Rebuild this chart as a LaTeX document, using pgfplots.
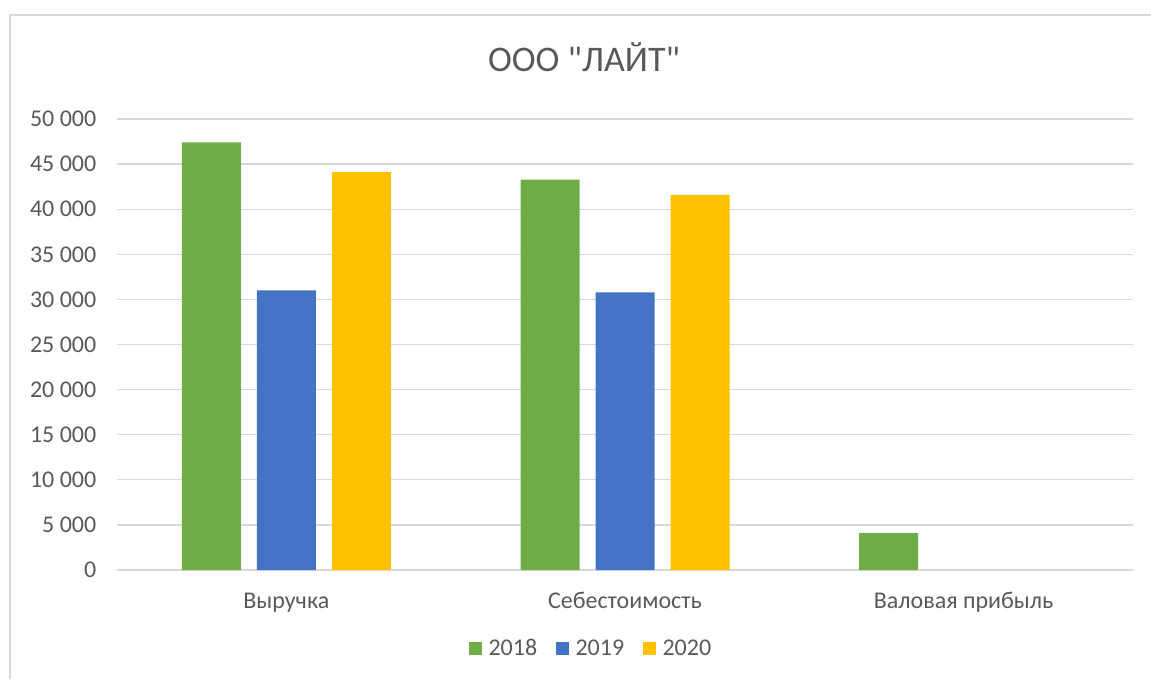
\documentclass[border=0pt]{standalone}
\usepackage{pgfplots}
\pgfplotsset{compat=1.18}
\usepackage{fontspec}
\setmainfont{Carlito}[Ligatures=TeXOff]
\definecolor{cgreen}{HTML}{70AD47}
\definecolor{cblue}{HTML}{4472C4}
\definecolor{cyellow}{HTML}{FFC000}
\definecolor{cgrid}{HTML}{D9D9D9}
\definecolor{ctext}{HTML}{595959}
\pgfplotsset{sqlegend/.style={legend image code/.code={\fill[##1] (0pt,0.5pt) rectangle (9.75pt,10.25pt);}}}
\begin{document}
\begin{tikzpicture}
\useasboundingbox (0,0) rectangle (863.25pt,509.25pt);
\draw[cgrid, line width=0.9pt] (7.5pt,0) -- (7.5pt,498pt) -- (863.25pt,498pt);
\begin{axis}[
  at={(87.75pt,81.75pt)}, anchor=south west,
  width=762pt, height=338.25pt, scale only axis,
  ybar=12pt, bar width=44.25pt,
  xmin=-0.5, xmax=2.5, ymin=0, ymax=50000,
  scaled y ticks=false,
  xtick={0,1,2},
  xticklabels={Выручка, Себестоимость, Валовая прибыль},
  ytick={0,5000,10000,15000,20000,25000,30000,35000,40000,45000,50000},
  yticklabels={0,{5 000},{10 000},{15 000},{20 000},{25 000},{30 000},{35 000},{40 000},{45 000},{50 000}},
  axis line style={draw=none},
  major tick length=0pt,
  ymajorgrids, grid style={cgrid, line width=1pt},
  tick label style={font=\fontsize{18}{21.6}\selectfont, color=ctext},
  x tick label style={anchor=base, yshift=-28.9pt},
  y tick label style={anchor=east, xshift=-12pt},
  legend style={at={(0.4656,-0.1736)}, anchor=center, draw=none, fill=none,
    legend columns=3, font=\fontsize{18}{21.6}\selectfont, text=ctext,
    inner sep=0pt, nodes={inner sep=0pt, anchor=base},
    /tikz/every odd column/.append style={column sep=5pt},
    /tikz/every even column/.append style={column sep=14pt}},
  clip=false,
]
\addplot[fill=cgreen, draw=none, sqlegend] coordinates {(0,47420) (1,43270) (2,4130)};
\addplot[fill=cblue, draw=none, sqlegend] coordinates {(0,31000) (1,30780)};
\addplot[fill=cyellow, draw=none, sqlegend] coordinates {(0,44120) (1,41600)};
\legend{2018,2019,2020}
\end{axis}
\node[font=\fontsize{27}{32}\selectfont, text=ctext, anchor=base] at (438pt,455.5pt) {ООО "ЛАЙТ"};
\end{tikzpicture}
\end{document}
